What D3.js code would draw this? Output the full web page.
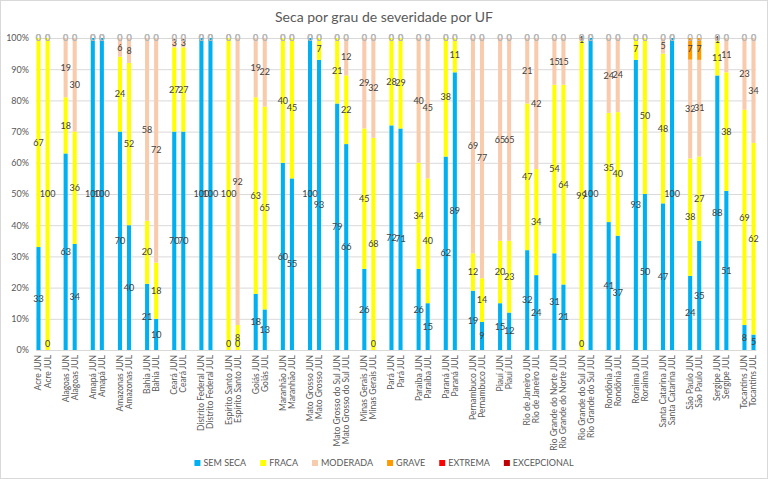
<!DOCTYPE html>
<html>
<head>
<meta charset="utf-8">
<script src="https://cdn.jsdelivr.net/npm/d3@7"></script>
<style>
  body { margin: 0; background: #fff; }
  text { font-family: Lato, "Open Sans", sans-serif; }
</style>
</head>
<body>
<div id="chart"></div>
<script>
// states (each one has a JUN and a JUL bar)
const states = ["Acre", "Alagoas", "Amapá", "Amazonas", "Bahia", "Ceará", "Distrito Federal", "Espírito Santo", "Goiás",
    "Maranhão", "Mato Grosso", "Mato Grosso do Sul", "Minas Gerais", "Pará", "Paraíba", "Paraná", "Pernambuco", "Piauí",
    "Rio de Janeiro", "Rio Grande do Norte", "Rio Grande do Sul", "Rondônia", "Roraima", "Santa Catarina", "São Paulo",
    "Sergipe", "Tocantins"];
const months = ["JUN", "JUL"];

const seriesNames = ["SEM SECA", "FRACA", "MODERADA", "GRAVE", "EXTREMA", "EXCEPCIONAL"];
const seriesColors = ["#00B0F0", "#FFFF00", "#F8CBAD", "#FF9900", "#FF0000", "#C00000"];

// values per bar, in order state JUN, state JUL
const semSeca = [33, 0, 63, 34, 100, 100, 70, 40, 21, 10, 70, 70, 100, 100, 0, 0, 18, 13, 60, 55, 100, 93, 79, 66, 26, 0,
    72, 71, 26, 15, 62, 89, 19, 9, 15, 12, 32, 24, 31, 21, 0, 100, 41, 37, 93, 50, 47, 100, 24, 35, 88, 51, 8, 5];
const fraca = [67, 100, 18, 36, 0, 0, 24, 52, 20, 18, 27, 27, 0, 0, 100, 8, 63, 65, 40, 45, 0, 7, 21, 22, 45, 68,
    28, 29, 34, 40, 38, 11, 12, 14, 20, 23, 47, 34, 54, 64, 99, 0, 35, 40, 7, 50, 48, 0, 38, 27, 11, 38, 69, 62];
const moderada = [0, 0, 19, 30, 0, 0, 6, 8, 58, 72, 3, 3, 0, 0, 0, 92, 19, 22, 0, 0, 0, 0, 0, 12, 29, 32,
    0, 0, 40, 45, 0, 0, 69, 77, 65, 65, 21, 42, 15, 15, 1, 0, 24, 24, 0, 0, 5, 0, 32, 31, 1, 11, 23, 34];
const grave = [0, 0, 0, 0, 0, 0, 0, 0, 0, 0, 0, 0, 0, 0, 0, 0, 0, 0, 0, 0, 0, 0, 0, 0, 0, 0,
    0, 0, 0, 0, 0, 0, 0, 0, 0, 0, 0, 0, 0, 0, 0, 0, 0, 0, 0, 0, 0, 0, 7, 7, 0, 0, 0, 0];
const extrema = [0, 0, 0, 0, 0, 0, 0, 0, 0, 0, 0, 0, 0, 0, 0, 0, 0, 0, 0, 0, 0, 0, 0, 0, 0, 0,
    0, 0, 0, 0, 0, 0, 0, 0, 0, 0, 0, 0, 0, 0, 0, 0, 0, 0, 0, 0, 0, 0, 0, 0, 0, 0, 0, 0];
const excepcional = [0, 0, 0, 0, 0, 0, 0, 0, 0, 0, 0, 0, 0, 0, 0, 0, 0, 0, 0, 0, 0, 0, 0, 0, 0, 0,
    0, 0, 0, 0, 0, 0, 0, 0, 0, 0, 0, 0, 0, 0, 0, 0, 0, 0, 0, 0, 0, 0, 0, 0, 0, 0, 0, 0];

const yTicks = [0, 0.1, 0.2, 0.3, 0.4, 0.5, 0.6, 0.7, 0.8, 0.9, 1];

const allSeries = [semSeca, fraca, moderada, grave, extrema, excepcional];

let width = 768, height = 479;
let margin = { top: 38, right: 12, bottom: 129, left: 36 };

// bar rows
let rows = [];
states.forEach((s, i) => {
    months.forEach((m, j) => {
        let k = i * 2 + j;
        let row = { key: s + " " + m, label: s + " " + m };
        seriesNames.forEach((n, si) => row[n] = allSeries[si][k]);
        rows.push(row);
    });
});

// domain with an empty slot between states
let domain = [];
states.forEach((s, i) => {
    if (i > 0) domain.push("gap" + i);
    months.forEach(m => domain.push(s + " " + m));
});

let svg = d3.select("#chart").append("svg")
    .attr("width", width)
    .attr("height", height);

svg.append("rect")
    .attr("x", 0.5).attr("y", 0.5)
    .attr("width", width - 1).attr("height", height - 1)
    .attr("fill", "#fff")
    .attr("stroke", "#D9D9D9");

let x = d3.scaleBand().domain(domain).range([margin.left, width - margin.right]).paddingInner(0.55).paddingOuter(0.05);
let y = d3.scaleLinear().domain([0, 1]).range([height - margin.bottom, margin.top]);

// gridlines
svg.append("g")
    .selectAll("line")
    .data(yTicks)
    .enter()
    .append("line")
    .attr("x1", margin.left)
    .attr("x2", width - margin.right)
    .attr("y1", d => y(d) + 0.5)
    .attr("y2", d => y(d) + 0.5)
    .attr("stroke", "#D9D9D9")
    .attr("stroke-width", 1);

// y axis labels
let yAxis = svg.append("g")
    .attr("transform", `translate(${margin.left - 4},0)`)
    .call(d3.axisLeft(y).tickValues(yTicks).tickFormat(d3.format(".0%")).tickSize(0));
yAxis.select(".domain").remove();
yAxis.selectAll("text").attr("fill", "#595959").attr("font-size", "9px");

// stacked bars, normalised to 100%
let stack = d3.stack().keys(seriesNames).offset(d3.stackOffsetExpand);
let layers = stack(rows);

let layerG = svg.append("g")
    .selectAll("g")
    .data(layers)
    .enter()
    .append("g")
    .attr("fill", (d, i) => seriesColors[i]);

layerG.selectAll("rect")
    .data(d => d)
    .enter()
    .append("rect")
    .attr("x", d => x(d.data.key))
    .attr("width", x.bandwidth())
    .attr("y", d => y(d[1]))
    .attr("height", d => y(d[0]) - y(d[1]));

// data labels
let labelG = svg.append("g");
layers.forEach(layer => {
    layer.forEach(d => {
        let v = d.data[layer.key];
        let mid = (d[0] + d[1]) / 2;
        let top = v === 0 && d[0] > 0.999;
        let ly = y(mid);
        if (v === 0 && !top) ly = y(0) - 6;
        labelG.append("text")
            .attr("x", x(d.data.key) + x.bandwidth() / 2)
            .attr("y", ly)
            .attr("dy", "0.35em")
            .attr("text-anchor", "middle")
            .attr("font-size", "9px")
            .attr("fill", top ? "#B8B8B8" : "#404040")
            .text(v);
    });
});

// x axis labels
let xAxis = svg.append("g")
    .attr("transform", `translate(0,${y(0)})`)
    .call(d3.axisBottom(x).tickValues(rows.map(d => d.key)).tickSize(0));
xAxis.select(".domain").attr("stroke", "#D9D9D9");
xAxis.selectAll("text")
    .attr("fill", "#595959")
    .attr("font-size", "8.5px")
    .attr("transform", "rotate(-90)")
    .attr("text-anchor", "end")
    .attr("x", -5)
    .attr("y", 0)
    .attr("dy", "0.35em");

// title
svg.append("text")
    .attr("x", width / 2)
    .attr("y", 22)
    .attr("text-anchor", "middle")
    .attr("font-size", "14px")
    .attr("fill", "#595959")
    .text("Seca por grau de severidade por UF");

// legend
let legend = svg.append("g");
let lx = 0;
seriesNames.forEach((n, i) => {
    let item = legend.append("g").attr("transform", `translate(${lx},0)`);
    item.append("rect")
        .attr("x", 0).attr("y", -3)
        .attr("width", 6).attr("height", 6)
        .attr("fill", seriesColors[i]);
    let t = item.append("text")
        .attr("x", 9).attr("y", 0)
        .attr("dy", "0.35em")
        .attr("font-size", "9px")
        .attr("fill", "#595959")
        .text(n);
    lx += 9 + t.node().getComputedTextLength() + 14;
});
legend.attr("transform", `translate(${(width - (lx - 14)) / 2},463)`);
</script>
</body>
</html>
